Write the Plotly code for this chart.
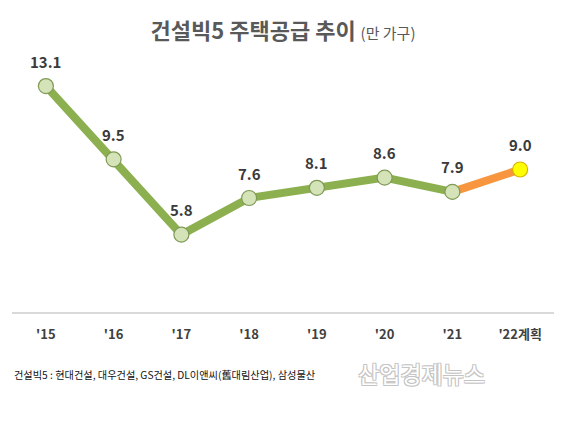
import plotly.graph_objects as go

years = ["'15", "'16", "'17", "'18", "'19", "'20", "'21", "'22계획"]
supply = [13.1, 9.5, 5.8, 7.6, 8.1, 8.6, 7.9, 9.0]
labels = ["13.1", "9.5", "5.8", "7.6", "8.1", "8.6", "7.9", "9.0"]

font_kr = "Noto Sans CJK KR"

fig = go.Figure()

# actual (green) and plan (orange) lines
fig.add_trace(go.Scatter(x=years[:7], y=supply[:7], mode="lines",
                         line=dict(color="#8cb050", width=8), hoverinfo="skip"))
fig.add_trace(go.Scatter(x=years[6:], y=supply[6:], mode="lines",
                         line=dict(color="#f7963f", width=8), hoverinfo="skip"))

# markers
fig.add_trace(go.Scatter(x=years[:7], y=supply[:7], mode="markers",
                         marker=dict(size=15, color="#d5e3b8",
                                     line=dict(color="#7f9a55", width=1.2))))
fig.add_trace(go.Scatter(x=years[7:], y=supply[7:], mode="markers",
                         marker=dict(size=15, color="#ffff00",
                                     line=dict(color="#d8b400", width=1.2))))

for yr, v, lab in zip(years, supply, labels):
    fig.add_annotation(x=yr, y=v, text="<b>" + lab + "</b>", showarrow=False,
                       yshift=25, font=dict(family=font_kr, size=15, color="#3a3a3a"))

# page has 8px body margin, so figure is 567x420 and everything is placed 8px up/left
fig.add_annotation(xref="paper", yref="paper", x=0.0, y=-0.22, xanchor="left",
                   yanchor="middle", showarrow=False,
                   text="건설빅5 : 현대건설, 대우건설, GS건설, DL이앤씨(舊대림산업), 삼성물산",
                   font=dict(family=font_kr, size=10.2, color="#111111"))
fig.add_annotation(xref="paper", yref="paper", x=0.755, y=-0.215, xanchor="center",
                   yanchor="middle", showarrow=False, text="산업경제뉴스",
                   font=dict(family=font_kr, size=23, color="#ffffff",
                             shadow="-1px -1px 0 #c4c4c4, 1px -1px 0 #c4c4c4, -1px 1px 0 #c4c4c4, 1px 1px 0 #c4c4c4"))

fig.update_layout(
    width=567, height=420,
    margin=dict(l=4, r=21, t=19, b=116),
    paper_bgcolor="white", plot_bgcolor="white",
    showlegend=False,
    title=dict(text="<b>건설빅5 주택공급 추이</b> <span style='font-size:15px;font-weight:normal'>(만 가구)</span>",
               x=0.485, xanchor="center", y=0.945, yanchor="middle",
               font=dict(family=font_kr, size=22, color="#595959")),
    xaxis=dict(type="category", range=[-0.5, 7.5], showgrid=False,
               showline=True, linecolor="#d9d9d9", linewidth=1.5,
               ticks="outside", ticklen=10, tickcolor="rgba(0,0,0,0)",
               tickfont=dict(family=font_kr, size=13, color="#404040", weight="bold")),
    yaxis=dict(range=[2, 16], visible=False),
)

fig.write_html("out.html")
